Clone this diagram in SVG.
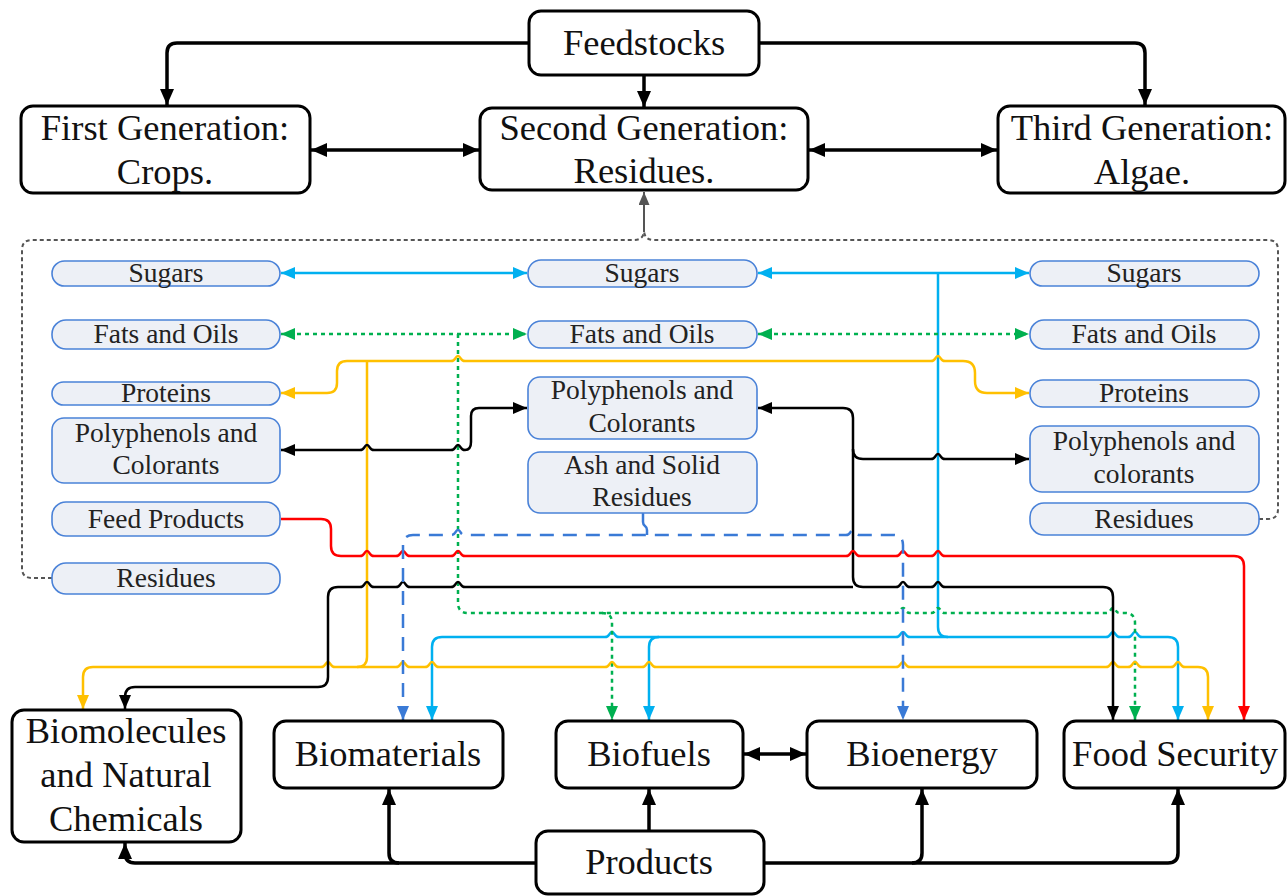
<svg xmlns="http://www.w3.org/2000/svg" width="1287" height="896" viewBox="0 0 1287 896">
<style>
.big{fill:#fff;stroke:#000;stroke-width:3}
.pill{fill:#EDF0F6;stroke:#4A82D8;stroke-width:1.6}
.t{font-family:"Liberation Serif","Times New Roman",serif;font-size:36.5px;fill:#111;text-anchor:middle}
.s{font-family:"Liberation Serif","Times New Roman",serif;font-size:27.5px;fill:#222;text-anchor:middle}
.K{fill:none;stroke:#000;stroke-width:3.5}
.k{fill:none;stroke:#000;stroke-width:2.5}
.b{fill:none;stroke:#00B0F0;stroke-width:2.5}
.g{fill:none;stroke:#00B050;stroke-width:2.5;stroke-dasharray:4 4}
.y{fill:none;stroke:#FFC000;stroke-width:2.5}
.r{fill:none;stroke:#FF0000;stroke-width:2.5}
.d{fill:none;stroke:#3A7AD6;stroke-width:2.5;stroke-dasharray:14 9}
.gr{fill:none;stroke:#555;stroke-width:2;stroke-dasharray:4 3}
.grs{fill:none;stroke:#555;stroke-width:2}
</style>
<defs>
<marker id="aK" markerUnits="userSpaceOnUse" markerWidth="16" markerHeight="14" refX="16" refY="7" orient="auto-start-reverse"><path d="M0,0 L16,7 L0,14 z" fill="#000"/></marker>
<marker id="ak" markerUnits="userSpaceOnUse" markerWidth="14" markerHeight="12" refX="14" refY="6" orient="auto-start-reverse"><path d="M0,0 L14,6 L0,12 z" fill="#000"/></marker>
<marker id="ab" markerUnits="userSpaceOnUse" markerWidth="14" markerHeight="12" refX="14" refY="6" orient="auto-start-reverse"><path d="M0,0 L14,6 L0,12 z" fill="#00B0F0"/></marker>
<marker id="ag" markerUnits="userSpaceOnUse" markerWidth="14" markerHeight="12" refX="14" refY="6" orient="auto-start-reverse"><path d="M0,0 L14,6 L0,12 z" fill="#00B050"/></marker>
<marker id="ay" markerUnits="userSpaceOnUse" markerWidth="14" markerHeight="12" refX="14" refY="6" orient="auto-start-reverse"><path d="M0,0 L14,6 L0,12 z" fill="#FFC000"/></marker>
<marker id="ar" markerUnits="userSpaceOnUse" markerWidth="14" markerHeight="12" refX="14" refY="6" orient="auto-start-reverse"><path d="M0,0 L14,6 L0,12 z" fill="#FF0000"/></marker>
<marker id="ad" markerUnits="userSpaceOnUse" markerWidth="14" markerHeight="12" refX="14" refY="6" orient="auto-start-reverse"><path d="M0,0 L14,6 L0,12 z" fill="#3A7AD6"/></marker>
<marker id="agr" markerUnits="userSpaceOnUse" markerWidth="13" markerHeight="11" refX="13" refY="5.5" orient="auto-start-reverse"><path d="M0,0 L13,5.5 L0,11 z" fill="#555"/></marker>
</defs>

<g id="connectors">
<!-- top -->
<path class="K" d="M529 43 H177 Q167 43 167 53 V105" marker-end="url(#aK)"/>
<path class="K" d="M644 75 V107" marker-end="url(#aK)"/>
<path class="K" d="M759 43 H1135 Q1145 43 1145 53 V105" marker-end="url(#aK)"/>
<path class="K" d="M311 150 H479" marker-start="url(#aK)" marker-end="url(#aK)"/>
<path class="K" d="M809 150 H997" marker-start="url(#aK)" marker-end="url(#aK)"/>
<!-- feedback gray -->
<path class="gr" d="M52 578 H32 Q22 578 22 568 V250 Q22 240 32 240 H634 Q644 240 644 230"/>
<path class="gr" d="M1259 519 H1268 Q1278 519 1278 509 V250 Q1278 240 1268 240 H654 Q644 240 644 230"/>
<path class="grs" d="M644 232 V192" marker-end="url(#agr)"/>
<!-- sugars blue -->
<path class="b" d="M281 273 H527" marker-start="url(#ab)" marker-end="url(#ab)"/>
<path class="b" d="M758 273 H1029" marker-start="url(#ab)" marker-end="url(#ab)"/>
<path class="b" d="M938 273 V627 Q938 637 948 637"/>
<path class="b" d="M432 720 V647 Q432 637 442 637 H605 c5 0 4 -5 7 -5 c3 0 2 5 7 5 H896 c5 0 4 -5 7 -5 c3 0 2 5 7 5 H1106 c5 0 4 -5 7 -5 c3 0 2 5 7 5 H1128 c5 0 4 -5 7 -5 c3 0 2 5 7 5 H1168 Q1178 637 1178 647 V720" marker-start="url(#ab)" marker-end="url(#ab)"/>
<path class="b" d="M659 637 Q649 637 649 647 V720" marker-end="url(#ab)"/>
<!-- fats green -->
<path class="g" d="M281 334 H527" marker-start="url(#ag)" marker-end="url(#ag)"/>
<path class="g" d="M758 334 H1029" marker-start="url(#ag)" marker-end="url(#ag)"/>
<path class="g" d="M458 334 V603 Q458 613 468 613 H896 c5 0 4 -5 7 -5 c3 0 2 5 7 5 H931 c5 0 4 -5 7 -5 c3 0 2 5 7 5 H1106 c5 0 4 -5 7 -5 c3 0 2 5 7 5 H1125 Q1135 613 1135 623 V720" marker-end="url(#ag)"/>
<path class="g" d="M602 613 Q612 613 612 623 V720" marker-end="url(#ag)"/>
<!-- proteins yellow -->
<path class="y" d="M281 393 H327 Q337 393 337 383 V371 Q337 361 347 361 H451 c5 0 4 -5 7 -5 c3 0 2 5 7 5 H931 c5 0 4 -5 7 -5 c3 0 2 5 7 5 H963 Q975 361 975 373 V381 Q975 393 987 393 H1029" marker-start="url(#ay)" marker-end="url(#ay)"/>
<path class="y" d="M367 361 V657 Q367 667 357 667"/>
<path class="y" d="M83 709 V677 Q83 667 93 667 H321 c5 0 4 -5 7 -5 c3 0 2 5 7 5 H396 c5 0 4 -5 7 -5 c3 0 2 5 7 5 H425 c5 0 4 -5 7 -5 c3 0 2 5 7 5 H605 c5 0 4 -5 7 -5 c3 0 2 5 7 5 H642 c5 0 4 -5 7 -5 c3 0 2 5 7 5 H896 c5 0 4 -5 7 -5 c3 0 2 5 7 5 H1106 c5 0 4 -5 7 -5 c3 0 2 5 7 5 H1128 c5 0 4 -5 7 -5 c3 0 2 5 7 5 H1171 c5 0 4 -5 7 -5 c3 0 2 5 7 5 H1198 Q1208 667 1208 677 V720" marker-start="url(#ay)" marker-end="url(#ay)"/>
<!-- polyphenols black -->
<path class="k" d="M281 450 H360 c5 0 4 -5 7 -5 c3 0 2 5 7 5 H451 c5 0 4 -5 7 -5 c3 0 2 5 7 5 Q471 450 471 442 V416 Q471 408 479 408 H527" marker-start="url(#ak)" marker-end="url(#ak)"/>
<path class="k" d="M758 408 H843 Q853 408 853 418 V577 Q853 587 863 587 H896 c5 0 4 -5 7 -5 c3 0 2 5 7 5 H931 c5 0 4 -5 7 -5 c3 0 2 5 7 5 H1103 Q1113 587 1113 597 V720" marker-start="url(#ak)" marker-end="url(#ak)"/>
<path class="k" d="M853 449 Q853 459 863 459 H931 c5 0 4 -5 7 -5 c3 0 2 5 7 5 H1029" marker-end="url(#ak)"/>
<path class="k" d="M125 709 V697 Q125 687 135 687 H318 Q328 687 328 677 V597 Q328 587 338 587 H360 c5 0 4 -5 7 -5 c3 0 2 5 7 5 H396 c5 0 4 -5 7 -5 c3 0 2 5 7 5 H451 c5 0 4 -5 7 -5 c3 0 2 5 7 5 H853" marker-start="url(#ak)"/>
<!-- feed red -->
<path class="r" d="M281 519 H321 Q331 519 331 529 V546 Q331 556 341 556 H360 c5 0 4 -5 7 -5 c3 0 2 5 7 5 H396 c5 0 4 -5 7 -5 c3 0 2 5 7 5 H451 c5 0 4 -5 7 -5 c3 0 2 5 7 5 H846 c5 0 4 -5 7 -5 c3 0 2 5 7 5 H896 c5 0 4 -5 7 -5 c3 0 2 5 7 5 H931 c5 0 4 -5 7 -5 c3 0 2 5 7 5 H1234 Q1244 556 1244 566 V720" marker-end="url(#ar)"/>
<!-- ash dashed blue -->
<path class="d" d="M403 720 V545 Q403 535 413 535 H451 c5 0 4 -5 7 -5 c3 0 2 5 7 5 H846 c5 0 4 -5 7 -5 c3 0 2 5 7 5 H893 Q903 535 903 545 V720" marker-start="url(#ad)" marker-end="url(#ad)"/>
<path fill="none" stroke="#3A7AD6" stroke-width="2.5" d="M643 513 V522 C643 527 647 525 647 530 V535"/>
<!-- products -->
<path class="K" d="M536 863 H135 Q125 863 125 853 V843" marker-end="url(#aK)"/>
<path class="K" d="M399 863 Q389 863 389 853 V789" marker-end="url(#aK)"/>
<path class="K" d="M649 831 V789" marker-end="url(#aK)"/>
<path class="K" d="M764 863 H1168 Q1178 863 1178 853 V789" marker-end="url(#aK)"/>
<path class="K" d="M912 863 Q922 863 922 853 V789" marker-end="url(#aK)"/>
<path class="K" d="M744 754 H806" marker-start="url(#aK)" marker-end="url(#aK)"/>
</g>

<g id="feedstocks"><rect class="big" x="529" y="11" width="230" height="64" rx="12"/><text class="t" x="644" y="55">Feedstocks</text></g>
<g id="first-gen"><rect class="big" x="21" y="106" width="289" height="87" rx="12"/><text class="t" x="165" y="140">First Generation:</text><text class="t" x="165" y="184">Crops.</text></g>
<g id="second-gen"><rect class="big" x="480" y="108" width="328" height="82" rx="12"/><text class="t" x="644" y="140">Second Generation:</text><text class="t" x="644" y="183">Residues.</text></g>
<g id="third-gen"><rect class="big" x="998" y="106" width="287" height="87" rx="12"/><text class="t" x="1142" y="140">Third Generation:</text><text class="t" x="1142" y="184">Algae.</text></g>

<g id="l-sugars"><rect class="pill" x="52" y="261" width="228" height="25" rx="12.5"/><text class="s" x="166" y="282">Sugars</text></g>
<g id="l-fats"><rect class="pill" x="52" y="320" width="228" height="29" rx="14"/><text class="s" x="166" y="343">Fats and Oils</text></g>
<g id="l-proteins"><rect class="pill" x="52" y="382" width="228" height="23" rx="11.5"/><text class="s" x="166" y="402">Proteins</text></g>
<g id="l-poly"><rect class="pill" x="52" y="418" width="228" height="65" rx="12"/><text class="s" x="166" y="442">Polyphenols and</text><text class="s" x="166" y="474">Colorants</text></g>
<g id="l-feed"><rect class="pill" x="52" y="502" width="228" height="34" rx="14"/><text class="s" x="166" y="528">Feed Products</text></g>
<g id="l-residues"><rect class="pill" x="52" y="563" width="228" height="31" rx="14"/><text class="s" x="166" y="587">Residues</text></g>

<g id="m-sugars"><rect class="pill" x="528" y="260" width="229" height="27" rx="13"/><text class="s" x="642" y="282">Sugars</text></g>
<g id="m-fats"><rect class="pill" x="528" y="321" width="229" height="27" rx="13"/><text class="s" x="642" y="343">Fats and Oils</text></g>
<g id="m-poly"><rect class="pill" x="528" y="377" width="229" height="62" rx="12"/><text class="s" x="642" y="399">Polyphenols and</text><text class="s" x="642" y="432">Colorants</text></g>
<g id="m-ash"><rect class="pill" x="528" y="452" width="229" height="61" rx="12"/><text class="s" x="642" y="474">Ash and Solid</text><text class="s" x="642" y="506">Residues</text></g>

<g id="r-sugars"><rect class="pill" x="1030" y="261" width="229" height="25" rx="12.5"/><text class="s" x="1144" y="282">Sugars</text></g>
<g id="r-fats"><rect class="pill" x="1030" y="320" width="229" height="29" rx="14"/><text class="s" x="1144" y="343">Fats and Oils</text></g>
<g id="r-proteins"><rect class="pill" x="1030" y="380" width="229" height="27" rx="13"/><text class="s" x="1144" y="402">Proteins</text></g>
<g id="r-poly"><rect class="pill" x="1030" y="426" width="229" height="66" rx="12"/><text class="s" x="1144" y="450">Polyphenols and</text><text class="s" x="1144" y="483">colorants</text></g>
<g id="r-residues"><rect class="pill" x="1030" y="503" width="229" height="32" rx="14"/><text class="s" x="1144" y="528">Residues</text></g>

<g id="biomolecules"><rect class="big" x="12" y="710" width="229" height="132" rx="12"/><text class="t" x="126" y="743">Biomolecules</text><text class="t" x="126" y="787">and Natural</text><text class="t" x="126" y="831">Chemicals</text></g>
<g id="biomaterials"><rect class="big" x="274" y="721" width="229" height="67" rx="12"/><text class="t" x="388" y="766">Biomaterials</text></g>
<g id="biofuels"><rect class="big" x="556" y="721" width="187" height="67" rx="12"/><text class="t" x="649" y="766">Biofuels</text></g>
<g id="bioenergy"><rect class="big" x="807" y="721" width="230" height="67" rx="12"/><text class="t" x="922" y="766">Bioenergy</text></g>
<g id="food-security"><rect class="big" x="1064" y="721" width="221" height="67" rx="12"/><text class="t" x="1175" y="766">Food Security</text></g>
<g id="products"><rect class="big" x="536" y="831" width="228" height="63" rx="12"/><text class="t" x="649" y="874">Products</text></g>
</svg>
